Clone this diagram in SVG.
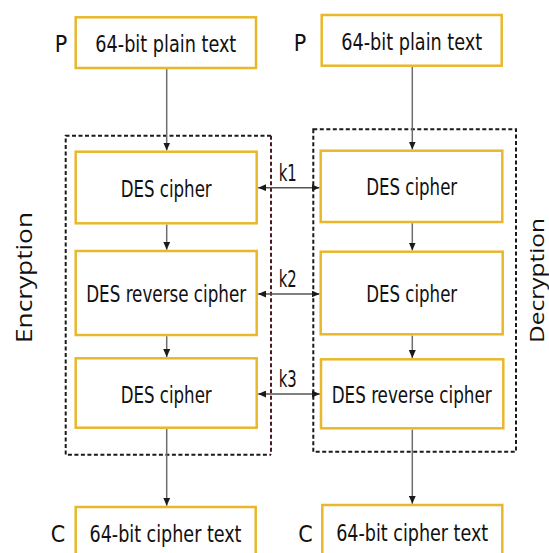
<svg xmlns="http://www.w3.org/2000/svg" width="549" height="553" viewBox="0 0 549 553">
<style>
.box{fill:#fff;stroke:#E8B82A;stroke-width:2.5}
.lbl{font-family:"Liberation Sans Narrow","DejaVu Sans Condensed","Liberation Sans",sans-serif;font-size:23px;fill:#111;text-anchor:middle}
.side{font-family:"Open Sans","Liberation Sans",sans-serif;font-size:22px;fill:#111;text-anchor:middle}
.dash{fill:none;stroke:#1a1a1a;stroke-width:2;stroke-dasharray:4 2.5}
.flow{fill:none;stroke:#6e6e6e;stroke-width:1.5}
.key{fill:none;stroke:#555;stroke-width:1.5}
</style>
<defs>
<marker id="ah" viewBox="0 0 8 7" refX="8" refY="3.5" markerWidth="8" markerHeight="7" markerUnits="userSpaceOnUse" orient="auto-start-reverse">
<path d="M0,0 L8,3.5 L0,7 z" fill="#1a1a1a"/>
</marker>
</defs>
<rect width="549" height="553" fill="#fff"/>

<g id="enc-frame">
<path class="dash" d="M271,135.7 H65.7 V454.7 H271"/>
<path class="dash" style="stroke:#4a1a24" d="M271,135.7 V454.7"/>
<text class="side" transform="translate(31.5,277.5) rotate(-90)" textLength="131" lengthAdjust="spacingAndGlyphs">Encryption</text>
</g>
<g id="dec-frame">
<rect class="dash" x="313.3" y="129.3" width="202.7" height="322.5"/>
<text class="side" style="font-size:20px" transform="translate(543.5,280.5) rotate(-90)" textLength="125" lengthAdjust="spacingAndGlyphs">Decryption</text>
</g>

<g id="connectors">
<line class="flow" x1="166.7" y1="69" x2="166.7" y2="150.5" marker-end="url(#ah)"/>
<line class="flow" x1="166.7" y1="224.5" x2="166.7" y2="249.8" marker-end="url(#ah)"/>
<line class="flow" x1="166.7" y1="336.2" x2="166.7" y2="357.1" marker-end="url(#ah)"/>
<line class="flow" x1="166.7" y1="429" x2="166.7" y2="505.8" marker-end="url(#ah)"/>
<line class="flow" x1="412.3" y1="67" x2="412.3" y2="149.5" marker-end="url(#ah)"/>
<line class="flow" x1="412.3" y1="223.2" x2="412.3" y2="250.5" marker-end="url(#ah)"/>
<line class="flow" x1="412.3" y1="335.5" x2="412.3" y2="358.1" marker-end="url(#ah)"/>
<line class="flow" x1="412.3" y1="429.5" x2="412.3" y2="503.8" marker-end="url(#ah)"/>
<line class="key" x1="258.2" y1="187.7" x2="319.5" y2="187.7" marker-start="url(#ah)" marker-end="url(#ah)"/>
<line class="key" x1="258.2" y1="294" x2="319.5" y2="294" marker-start="url(#ah)" marker-end="url(#ah)"/>
<line class="key" x1="258.2" y1="394" x2="319.8" y2="394" marker-start="url(#ah)" marker-end="url(#ah)"/>
<text class="lbl" x="287.8" y="180.5" textLength="18" lengthAdjust="spacingAndGlyphs">k1</text>
<text class="lbl" x="287.8" y="287" textLength="18" lengthAdjust="spacingAndGlyphs">k2</text>
<text class="lbl" x="287.8" y="387" textLength="18" lengthAdjust="spacingAndGlyphs">k3</text>
</g>

<g id="enc-plain">
<text class="lbl" x="61" y="51.7">P</text>
<rect class="box" x="75.7" y="17.3" width="180.3" height="50.7"/>
<text class="lbl" x="165.8" y="51.5" textLength="141" lengthAdjust="spacingAndGlyphs">64-bit plain text</text>
</g>
<g id="enc-des1">
<rect class="box" x="75.7" y="151.7" width="181" height="71.6"/>
<text class="lbl" x="166.2" y="196.5" textLength="91" lengthAdjust="spacingAndGlyphs">DES cipher</text>
</g>
<g id="enc-des2">
<rect class="box" x="75.7" y="251" width="181" height="84"/>
<text class="lbl" x="166.2" y="301.8" textLength="160" lengthAdjust="spacingAndGlyphs">DES reverse cipher</text>
</g>
<g id="enc-des3">
<rect class="box" x="75.7" y="358.3" width="181" height="69.4"/>
<text class="lbl" x="166.2" y="402.5" textLength="91" lengthAdjust="spacingAndGlyphs">DES cipher</text>
</g>
<g id="enc-cipher">
<text class="lbl" x="58" y="542">C</text>
<rect class="box" x="75.7" y="507" width="180" height="60"/>
<text class="lbl" x="165.5" y="541.7" textLength="152" lengthAdjust="spacingAndGlyphs">64-bit cipher text</text>
</g>

<g id="dec-plain">
<text class="lbl" x="300" y="50.7">P</text>
<rect class="box" x="321.7" y="15" width="180" height="50.7"/>
<text class="lbl" x="411.7" y="49.5" textLength="141" lengthAdjust="spacingAndGlyphs">64-bit plain text</text>
</g>
<g id="dec-des1">
<rect class="box" x="320.7" y="150.7" width="181.6" height="71.3"/>
<text class="lbl" x="411.7" y="195.4" textLength="91" lengthAdjust="spacingAndGlyphs">DES cipher</text>
</g>
<g id="dec-des2">
<rect class="box" x="320.7" y="251.7" width="182" height="82.6"/>
<text class="lbl" x="411.7" y="302" textLength="91" lengthAdjust="spacingAndGlyphs">DES cipher</text>
</g>
<g id="dec-des3">
<rect class="box" x="321" y="359.3" width="182.3" height="69"/>
<text class="lbl" x="411.7" y="402.8" textLength="160" lengthAdjust="spacingAndGlyphs">DES reverse cipher</text>
</g>
<g id="dec-cipher">
<text class="lbl" x="305.4" y="541.7">C</text>
<rect class="box" x="322.3" y="505" width="180" height="60"/>
<text class="lbl" x="412.2" y="540.5" textLength="152" lengthAdjust="spacingAndGlyphs">64-bit cipher text</text>
</g>
</svg>
